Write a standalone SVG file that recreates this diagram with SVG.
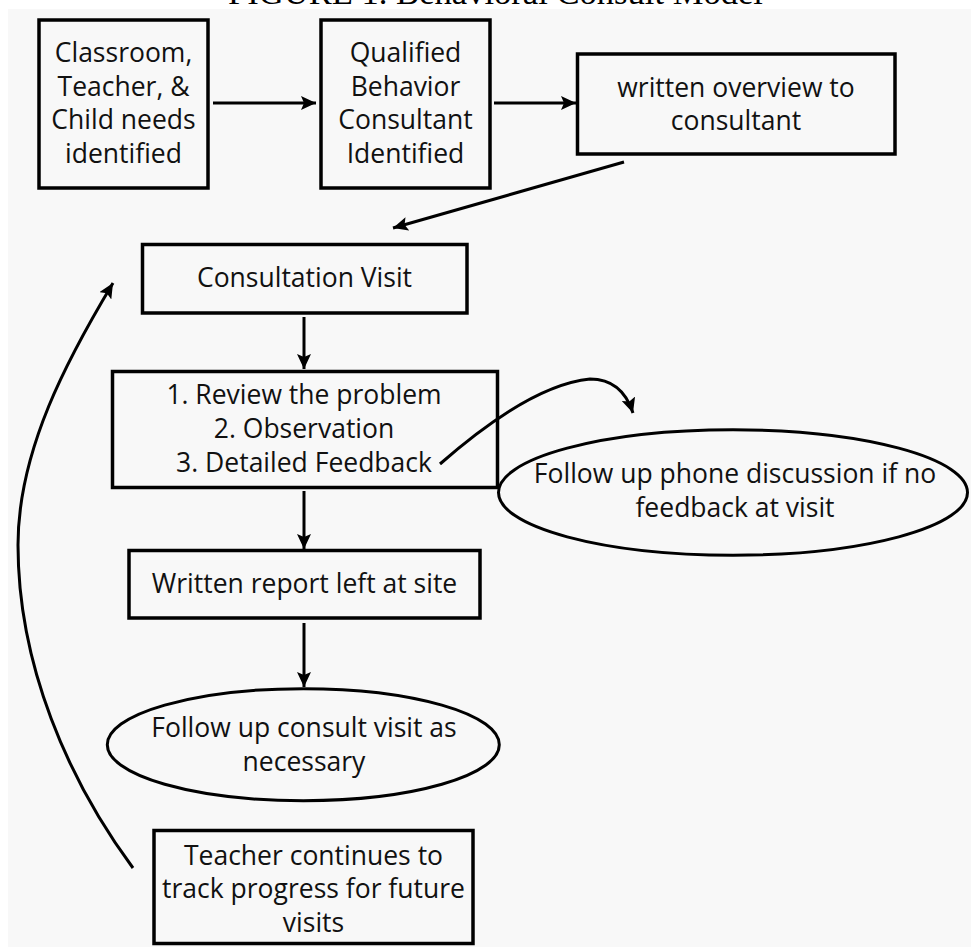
<svg xmlns="http://www.w3.org/2000/svg" width="971" height="947" viewBox="0 0 971 947">
<defs>
<style>
.box{fill:#f8f8f8;stroke:#000;stroke-width:3.5}
.ell{fill:#f8f8f8;stroke:#000;stroke-width:3}
.t{font-family:"Open Sans","Liberation Sans",sans-serif;font-size:26.5px;fill:#111;text-anchor:middle}
.ln{fill:none;stroke:#000;stroke-width:3}
.title{font-family:"Liberation Serif","Times New Roman",serif;font-size:34.6px;fill:#000;text-anchor:middle}
</style>
<marker id="ah" markerUnits="userSpaceOnUse" markerWidth="16" markerHeight="14" refX="15" refY="7" orient="auto">
<path d="M0,0 L15,7 L0,14 L3,7 z" fill="#000"/>
</marker>
</defs>
<rect x="0" y="0" width="971" height="947" fill="#ffffff"/>
<rect x="8" y="9" width="963" height="938" fill="#f8f8f8"/>
<text class="title" x="495.5" y="4">FIGURE 1. Behavioral Consult Model</text>

<g id="n1">
<rect class="box" x="39" y="20" width="169" height="168"/>
<text class="t" x="123.5" y="62">Classroom,</text>
<text class="t" x="123.5" y="96">Teacher, &amp;</text>
<text class="t" x="123.5" y="129">Child needs</text>
<text class="t" x="123.5" y="163">identified</text>
</g>
<g id="n2">
<rect class="box" x="321" y="20" width="169" height="168"/>
<text class="t" x="405.5" y="62">Qualified</text>
<text class="t" x="405.5" y="96">Behavior</text>
<text class="t" x="405.5" y="129">Consultant</text>
<text class="t" x="405.5" y="163">Identified</text>
</g>
<g id="n3">
<rect class="box" x="577.5" y="54" width="317.5" height="100"/>
<text class="t" x="736" y="97">written overview to</text>
<text class="t" x="736" y="130">consultant</text>
</g>
<g id="n4">
<rect class="box" x="142.5" y="244.5" width="324.5" height="68.5"/>
<text class="t" x="304.5" y="287">Consultation Visit</text>
</g>
<g id="n5">
<rect class="box" x="112.5" y="371.5" width="385" height="116"/>
<text class="t" x="304" y="404">1. Review the problem</text>
<text class="t" x="304" y="438">2. Observation</text>
<text class="t" x="304" y="472">3. Detailed Feedback</text>
</g>
<g id="n6">
<ellipse class="ell" cx="733" cy="492.5" rx="234.5" ry="62.7"/>
<text class="t" x="735" y="483">Follow up phone discussion if no</text>
<text class="t" x="735" y="517">feedback at visit</text>
</g>
<g id="n7">
<rect class="box" x="129" y="550.5" width="351" height="67.5"/>
<text class="t" x="304.5" y="593">Written report left at site</text>
</g>
<g id="n8">
<ellipse class="ell" cx="303.3" cy="744.7" rx="196" ry="56"/>
<text class="t" x="304" y="737">Follow up consult visit as</text>
<text class="t" x="304" y="771">necessary</text>
</g>
<g id="n9">
<rect class="box" x="154" y="830.5" width="319" height="113"/>
<text class="t" x="313.5" y="865">Teacher continues to</text>
<text class="t" x="313.5" y="898">track progress for future</text>
<text class="t" x="313.5" y="932">visits</text>
</g>

<g id="connectors">
<line class="ln" x1="213" y1="103" x2="316" y2="103" marker-end="url(#ah)"/>
<line class="ln" x1="494" y1="103" x2="576" y2="103" marker-end="url(#ah)"/>
<line class="ln" x1="624" y1="162" x2="393" y2="228" marker-end="url(#ah)"/>
<line class="ln" x1="304" y1="317" x2="304" y2="369" marker-end="url(#ah)"/>
<line class="ln" x1="304" y1="491" x2="304" y2="549" marker-end="url(#ah)"/>
<line class="ln" x1="304" y1="623" x2="304" y2="687" marker-end="url(#ah)"/>
<path class="ln" d="M440,464 Q530,385 590,379 Q622,379 633,413" marker-end="url(#ah)"/>
<path class="ln" d="M133,868 C68,780 18,665 18,545 C18,450 68,358 113,283" marker-end="url(#ah)"/>
</g>
</svg>
